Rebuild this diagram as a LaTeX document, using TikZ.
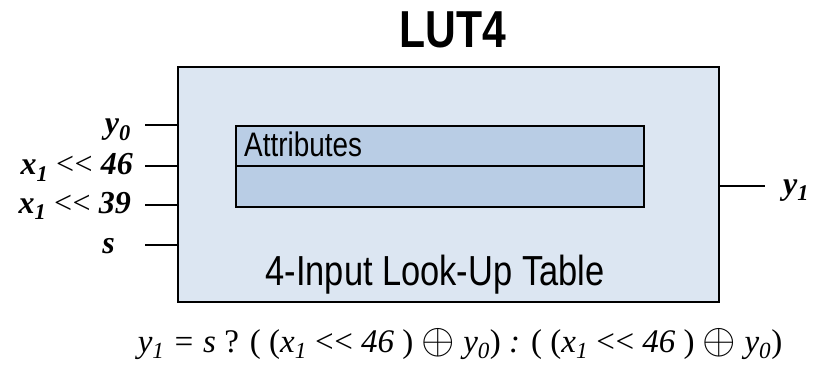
\documentclass[tikz,border=0pt]{standalone}
\usepackage{graphicx}
\usepackage{fontspec}
\setmainfont{Liberation Serif}
\setsansfont{Liberation Sans}
\newfontfamily\narrowsans[FakeStretch=0.82]{Liberation Sans}
\newcommand{\shl}{{\upshape\mdseries<\kern0.5pt<}}
\newcommand{\xorop}{{\fontsize{10}{10}\selectfont\raisebox{-1.5pt}{\scalebox{4.3}{$\oplus$}}}}
\begin{document}
\begin{tikzpicture}[x=1pt,y=-1pt]
  \definecolor{outerfill}{HTML}{DCE6F2}
  \definecolor{innerfill}{HTML}{B9CDE5}
  \tikzset{
    pin/.style={line width=2.4pt},
    inlabel/.style={font=\fontsize{32}{32}\selectfont\bfseries\itshape, anchor=base east, inner sep=0pt},
  }
  \useasboundingbox (0,0) rectangle (821,366);

  % title
  \node[font=\fontsize{52}{52}\selectfont\narrowsans\bfseries, anchor=base, inner sep=0pt] (title) at (453,48) {LUT4};

  % outer block
  \draw[line width=2.4pt, fill=outerfill] (178,67) rectangle (719,302);
  \coordinate (boxW) at (178,0);
  \coordinate (boxE) at (719,0);

  % attributes panel
  \draw[line width=1.8pt, fill=innerfill] (236,126) rectangle (644,207);
  \draw[line width=1.8pt] (236,166) -- (644,166);
  \node[font=\fontsize{34}{34}\selectfont\narrowsans, anchor=base west, inner sep=0pt] (attr) at (244,157) {Attributes};

  % block caption
  \node[font=\fontsize{42}{42}\selectfont\narrowsans, anchor=base, inner sep=0pt] (cap) at (435,285) {4-Input Look-Up Table};

  % inputs
  \coordinate (i0) at (145,125);
  \coordinate (i1) at (145,166);
  \coordinate (i2) at (145,205);
  \coordinate (i3) at (145,245);
  \draw[pin] (i0) -- (boxW |- i0);
  \draw[pin] (i1) -- (boxW |- i1);
  \draw[pin] (i2) -- (boxW |- i2);
  \draw[pin] (i3) -- (boxW |- i3);
  \node[inlabel] (ly0) at (131,134) {y\textsubscript{0}};
  \node[inlabel] (lx46) at (133,175) {x\textsubscript{\textit{1}} \shl{} 46};
  \node[inlabel] (lx39) at (131,213) {x\textsubscript{\textit{1}} \shl{} 39};
  \node[inlabel] (ls) at (115,253) {s};

  % output
  \coordinate (o0) at (765,186);
  \draw[line width=2pt] (boxE |- o0) -- (o0);
  \node[font=\fontsize{32}{32}\selectfont\bfseries\itshape, anchor=base west, inner sep=0pt] (ly1) at (783,194) {y\textsubscript{1}};

  % function
  \node[font=\fontsize{33}{33}\selectfont\itshape, anchor=base, inner sep=0pt] (fn) at (460,352)
    {y\textsubscript{1} = s {\upshape ?} {\upshape (} {\upshape (}x\textsubscript{1} \shl{} 46 {\upshape )} \xorop{} y\textsubscript{0}{\upshape )} : {\upshape (} {\upshape (}x\textsubscript{1} \shl{} 46 {\upshape )} \xorop{} y\textsubscript{0}{\upshape )}};
\end{tikzpicture}
\end{document}
